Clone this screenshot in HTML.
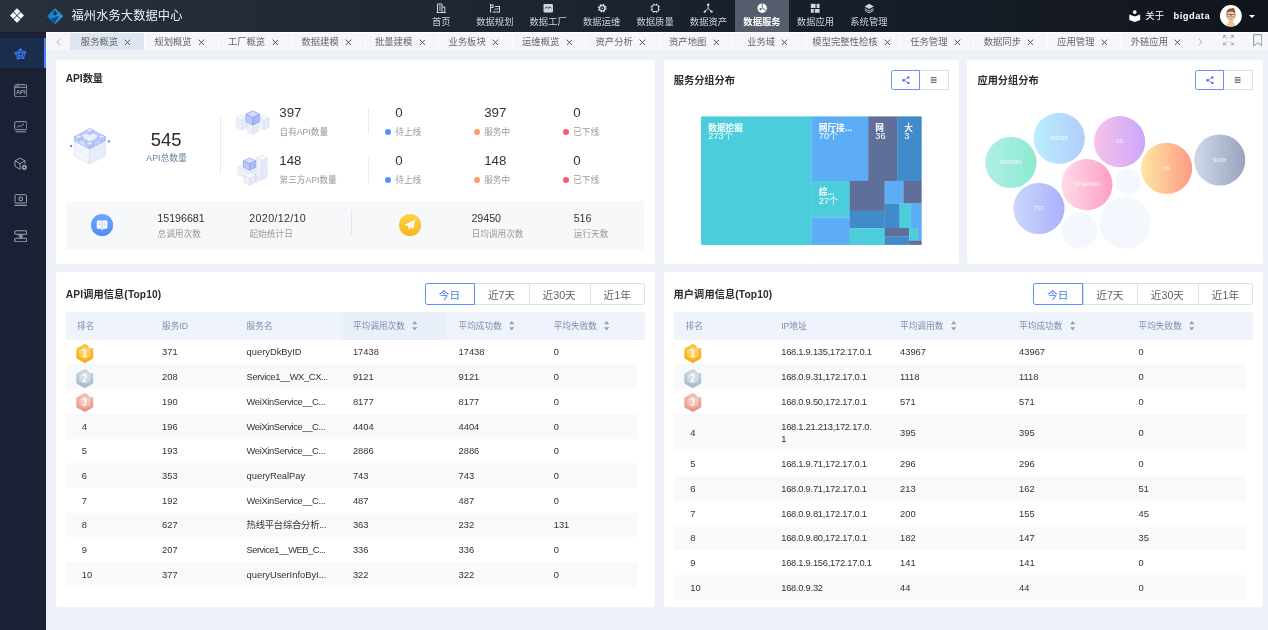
<!DOCTYPE html>
<html lang="zh-CN">
<head>
<meta charset="utf-8">
<title>福州水务大数据中心</title>
<style>
*{box-sizing:border-box;margin:0;padding:0}
html,body{width:1268px;height:630px;overflow:hidden;background:#eef1f8}
body{font-family:"Liberation Sans","Noto Sans CJK SC",sans-serif;color:#333;position:relative;font-size:9.33px;line-height:1}
.abs{position:absolute}
#top{position:absolute;left:0;top:0;width:1268px;height:32px;background:linear-gradient(90deg,#28303d,#10151d)}
#side{position:absolute;left:0;top:32px;width:46px;height:598px;background:#1b2035}
#side .act{position:absolute;left:0;top:6px;width:46px;height:30px;background:#1b2d4d;border-right:2px solid #4a86f7}
#tabs{position:absolute;left:46px;top:32px;width:1222px;height:18.3px;background:#fff}
.t{position:absolute;white-space:nowrap}
.card{position:absolute;background:#fff;border-radius:3px}
#c1:before,#c2:before,#c3:before{content:"";position:absolute;left:0;right:0;top:-.4px;height:4px;background:#fff;border-radius:3px 3px 0 0}
.ttl{position:absolute;font-weight:bold;font-size:10.2px;color:#2b2b2b;white-space:nowrap}
.g{color:#999}
</style>
</head>
<body>
<div id="top">
<svg class="abs" style="left:10.2px;top:8.2px" width="14" height="15" viewBox="0 0 14 15"><g fill="#fff"><path d="M7 .3l3.300 3.300-3.300 3.300-3.300-3.300z"/><path d="M7 8.100l3.300 3.300-3.300 3.300-3.300-3.300z"/><path d="M3.200 4.200l3.300 3.300-3.300 3.300L-.1 7.500z"/><path d="M10.800 4.200l3.300 3.300-3.300 3.300-3.300-3.300z"/></g></svg>
<svg class="abs" style="left:46.9px;top:7.8px" width="16.300" height="16.300" viewBox="0 0 17 17"><defs><linearGradient id="lg1" x1="0" y1="0" x2="1" y2="0"><stop offset="0" stop-color="#0f7fd0"/><stop offset="1" stop-color="#1d9be0"/></linearGradient></defs><path d="M8.500.4l8.100 8.100-8.100 8.100L.4 8.500z" fill="url(#lg1)" stroke="url(#lg1)" stroke-width=".6" stroke-linejoin="round"/><path d="M3.900 11.300c2.900.2 5.200-2.300 7.900-2.900.400 2.400-2 3.700-2.900 5.400-.400.800-.400 1.700-.400 2.700z" fill="#153f68" opacity=".9"/><path d="M8.400 2.500c1.200 1.500 1.900 2.300 1.900 3.200a1.900 1.900 0 0 1-3.800 0c0-.9.700-1.700 1.900-3.200z" fill="#252c3a"/></svg>
<div class="t" style="left:71.5px;top:10.2px;font-size:12.2px;line-height:13px;color:#eef1f6;letter-spacing:.15px">福州水务大数据中心</div>
<svg class="abs" style="left:436.1px;top:3.2px" width="10.4" height="10.4" viewBox="0 0 10.4 10.4"><path d="M1.5 9.5V1h4.5v8.5M6 4h2.8v5.5M0.5 9.5h9.5M2.8 3h2M2.8 5h2M2.8 7h2" fill="none" stroke="#cfd5e0" stroke-width="1"/></svg>
<div class="t" style="left:411.3px;width:60px;text-align:center;top:16.5px;font-size:9.33px;line-height:10px;color:#c9d0dc;font-weight:normal">首页</div>
<svg class="abs" style="left:489.6px;top:3.2px" width="10.4" height="10.4" viewBox="0 0 10.4 10.4"><path d="M0.5 9.5V1M0.5 2h2.5v2.5h-2.5zM2.5 9h7V3.5h-4.5" fill="none" stroke="#cfd5e0" stroke-width="1.1"/><path d="M4.5 7l1.5-1.5 1 1L8.5 5" fill="none" stroke="#cfd5e0" stroke-width=".9"/></svg>
<div class="t" style="left:464.8px;width:60px;text-align:center;top:16.5px;font-size:9.33px;line-height:10px;color:#c9d0dc;font-weight:normal">数据规划</div>
<svg class="abs" style="left:543.0px;top:3.2px" width="10.4" height="10.4" viewBox="0 0 10.4 10.4"><rect x="0.5" y="1" width="9.5" height="8.5" rx="1.2" fill="#cfd5e0"/><path d="M2 5.5l1.6-1.6 1.6 1.6 1.6-1.6 1.6 1.6" fill="none" stroke="#262d3a" stroke-width="1"/></svg>
<div class="t" style="left:518.2px;width:60px;text-align:center;top:16.5px;font-size:9.33px;line-height:10px;color:#c9d0dc;font-weight:normal">数据工厂</div>
<svg class="abs" style="left:596.5px;top:3.2px" width="10.4" height="10.4" viewBox="0 0 10.4 10.4"><circle cx="5.2" cy="5.2" r="3.5" fill="none" stroke="#cfd5e0" stroke-width="1.8" stroke-dasharray="1.5 1.25"/><circle cx="5.2" cy="5.2" r="2.700" fill="none" stroke="#cfd5e0" stroke-width="1.300"/><circle cx="5.2" cy="5.2" r=".7" fill="#cfd5e0"/></svg>
<div class="t" style="left:571.7px;width:60px;text-align:center;top:16.5px;font-size:9.33px;line-height:10px;color:#c9d0dc;font-weight:normal">数据运维</div>
<svg class="abs" style="left:649.9px;top:3.2px" width="10.4" height="10.4" viewBox="0 0 10.4 10.4"><rect x="2" y="2" width="6.5" height="6.5" rx="1.6" fill="none" stroke="#cfd5e0" stroke-width="1.1"/><path d="M3.8 0.5v1.5M6.7 0.5v1.5M3.8 8.5v1.5M6.7 8.5v1.5M0.5 3.8h1.5M0.5 6.7h1.5M8.5 3.8h1.5M8.5 6.7h1.5" stroke="#cfd5e0" stroke-width=".9"/></svg>
<div class="t" style="left:625.1px;width:60px;text-align:center;top:16.5px;font-size:9.33px;line-height:10px;color:#c9d0dc;font-weight:normal">数据质量</div>
<svg class="abs" style="left:703.3px;top:3.2px" width="10.4" height="10.4" viewBox="0 0 10.4 10.4"><path d="M5.2 2.5v3M5.2 5.5L2 8.3M5.2 5.5l3.2 2.8" fill="none" stroke="#cfd5e0" stroke-width="1"/><circle cx="5.2" cy="1.8" r="1.3" fill="#cfd5e0"/><circle cx="1.8" cy="8.6" r="1.2" fill="#cfd5e0"/><circle cx="8.6" cy="8.6" r="1.2" fill="#cfd5e0"/></svg>
<div class="t" style="left:678.5px;width:60px;text-align:center;top:16.5px;font-size:9.33px;line-height:10px;color:#c9d0dc;font-weight:normal">数据资产</div>
<div class="abs" style="left:735.4px;top:0;width:53.4px;height:32px;background:#555c6b"></div>
<svg class="abs" style="left:756.8px;top:3.2px" width="10.4" height="10.4" viewBox="0 0 10.4 10.4"><circle cx="5.2" cy="5.2" r="4.7" fill="#fff"/><path d="M5.2 5.2V0.5M5.2 5.2l4 2.4" stroke="#555c6b" stroke-width=".9" fill="none"/><circle cx="3.6" cy="6.2" r="1.1" fill="#555c6b"/></svg>
<div class="t" style="left:732.0px;width:60px;text-align:center;top:16.5px;font-size:9.33px;line-height:10px;color:#fff;font-weight:bold">数据服务</div>
<svg class="abs" style="left:810.2px;top:3.2px" width="10.4" height="10.4" viewBox="0 0 10.4 10.4"><rect x="0.8" y="0.8" width="4.8" height="4.2" fill="#cfd5e0"/><rect x="6.6" y="0.8" width="3" height="4.2" fill="#cfd5e0"/><rect x="0.8" y="6" width="3" height="3.8" fill="#cfd5e0"/><rect x="4.8" y="6" width="4.8" height="3.8" fill="#cfd5e0"/></svg>
<div class="t" style="left:785.5px;width:60px;text-align:center;top:16.5px;font-size:9.33px;line-height:10px;color:#c9d0dc;font-weight:normal">数据应用</div>
<svg class="abs" style="left:863.7px;top:3.2px" width="10.4" height="10.4" viewBox="0 0 10.4 10.4"><path d="M5.2 0.8l4.6 2.6-4.6 2.6L0.6 3.4z" fill="#cfd5e0"/><path d="M0.8 5.6l4.4 2.5 4.4-2.5M0.8 7.4l4.4 2.5 4.4-2.5" fill="none" stroke="#cfd5e0" stroke-width=".9"/></svg>
<div class="t" style="left:838.9px;width:60px;text-align:center;top:16.5px;font-size:9.33px;line-height:10px;color:#c9d0dc;font-weight:normal">系统管理</div>
<svg class="abs" style="left:1129px;top:10px" width="11.5" height="12" viewBox="0 0 11.5 12"><circle cx="5.75" cy="2.1" r="1.9" fill="#fff"/><path d="M.3 4.600l5.450 2 5.450-2v5.400l-5.450 2-5.450-2z" fill="#fff"/></svg>
<div class="t" style="left:1145.3px;top:11px;font-size:9.33px;line-height:10px;color:#fff">关于</div>
<div class="t" style="left:1173.5px;top:10.8px;font-size:9.33px;line-height:10px;color:#fff;font-weight:bold;letter-spacing:.5px">bigdata</div>
<svg class="abs" style="left:1220.200px;top:5px" width="21.800" height="21.800" viewBox="0 0 43 43"><defs><clipPath id="cpa"><circle cx="21.500" cy="21.500" r="21.500"/></clipPath></defs><circle cx="21.500" cy="21.500" r="21.500" fill="#fff"/><g clip-path="url(#cpa)"><ellipse cx="21.500" cy="38.500" rx="8.500" ry="4" fill="#f0c594"/><rect x="17" y="28" width="9" height="8" fill="#eebd8a"/><ellipse cx="21.500" cy="21.800" rx="8.800" ry="10" fill="#f2c792"/><path d="M12.800 19c-.8-7 2.500-12 8.700-12 2.500 0 3.500-1.500 6.500-1-0.500 1.500 0 2.500 1 4 1.500 2.500 1.500 5.500 1 9-1.500-4-3-6-8.500-6s-7.200 2-8.700 6z" fill="#a04d2e"/><rect x="12.600" y="18.300" width="17.800" height="1.600" fill="#4a4f52"/><rect x="13.400" y="18.600" width="7" height="4.800" rx="1" fill="#eadbc6" stroke="#5f6466" stroke-width="1.100"/><rect x="22.600" y="18.600" width="7" height="4.800" rx="1" fill="#eadbc6" stroke="#5f6466" stroke-width="1.100"/><ellipse cx="21.500" cy="27.700" rx="2" ry=".9" fill="#b8475a"/></g></svg>
<div class="abs" style="left:1248.6px;top:14.6px;width:0;height:0;border-left:3px solid transparent;border-right:3px solid transparent;border-top:3.2px solid #fff"></div>
</div>
<div id="side"><div class="act"></div>
<svg class="abs" style="left:13.8px;top:15.700px" width="13" height="13" viewBox="0 0 13 13"><g fill="none" stroke="#3f78f5" stroke-width="1"><path d="M6.300 1.200l5 3.200-1.800 5.600-5.800.600L1.300 5z"/><path d="M6.300 1.200l-2.600 9.400M6.300 1.200l3.200 8.800M1.300 5l10-.6M1.300 5l8.200 5M11.300 4.400l-7.600 6.200"/></g><g fill="#3f78f5"><circle cx="6.300" cy="1.300" r="1.100"/><circle cx="11.300" cy="4.400" r="1.100"/><circle cx="9.500" cy="10" r="1.100"/><circle cx="3.700" cy="10.600" r="1.100"/><circle cx="1.400" cy="5" r="1.100"/></g></svg>
<svg class="abs" style="left:13.700px;top:51.800px" width="13.500" height="13.500" viewBox="0 0 13.500 13.500"><rect x=".7" y=".7" width="12.100" height="12.100" rx="1.500" fill="none" stroke="#9aa0ad" stroke-width="1"/><path d="M.7 3.300h12.100M2.200 2h3" stroke="#9aa0ad" stroke-width=".9"/><text x="6.750" y="10.300" font-size="5.800" font-weight="bold" fill="#9aa0ad" text-anchor="middle" font-family="Liberation Sans,sans-serif">API</text></svg>
<svg class="abs" style="left:13.700px;top:88.800px" width="13.500" height="12" viewBox="0 0 13.500 12"><rect x=".7" y=".7" width="12.100" height="8" rx="1" fill="none" stroke="#9aa0ad" stroke-width="1"/><path d="M3 6.500l2.200-2.200 1.600 1.300 3.200-2.800" fill="none" stroke="#9aa0ad" stroke-width="1"/><path d="M1.500 10.800h10.500" stroke="#9aa0ad" stroke-width="1"/></svg>
<svg class="abs" style="left:13.700px;top:124.500px" width="13.500" height="13.500" viewBox="0 0 13.500 13.500"><path d="M6 1l5 2.800v3M6 12.200L1 9.400V3.800L6 1M1 3.800l5 2.800 5-2.800M6 6.600v5.600" fill="none" stroke="#9aa0ad" stroke-width="1" stroke-linejoin="round"/><circle cx="10.300" cy="10.300" r="2.600" fill="#9aa0ad"/><circle cx="10.300" cy="10.300" r=".9" fill="#1b2035"/></svg>
<svg class="abs" style="left:13.700px;top:161.500px" width="13.500" height="12.500" viewBox="0 0 13.500 12.500"><rect x="1" y=".7" width="11.500" height="8.300" rx=".8" fill="none" stroke="#9aa0ad" stroke-width="1"/><circle cx="6.750" cy="4.850" r="1.800" fill="none" stroke="#9aa0ad" stroke-width="1.100"/><path d="M.5 11.300h12.500" stroke="#9aa0ad" stroke-width="1.200"/></svg>
<svg class="abs" style="left:13.700px;top:197.800px" width="13.500" height="12.500" viewBox="0 0 13.500 12.500"><rect x=".7" y=".7" width="12.100" height="3.600" rx="1.600" fill="none" stroke="#9aa0ad" stroke-width="1.100"/><rect x=".7" y="8.200" width="12.100" height="3.600" rx="1.600" fill="none" stroke="#9aa0ad" stroke-width="1.100"/><path d="M4.500 5.600h4.500M4.500 6.900h4.500" stroke="#9aa0ad" stroke-width=".8"/><path d="M6.750 4.300v3.900" stroke="#9aa0ad" stroke-width="1.600"/></svg>
</div>
<div id="tabs">
<div class="abs" style="left:0.6px;top:.7px;width:1222.10px;height:17.6px;background:#f5f6fa"></div>
<svg class="abs" style="left:10.2px;top:5.8px" width="5" height="8" viewBox="0 0 5 8"><path d="M4.300.600L1 4l3.300 3.400" fill="none" stroke="#a9adb5" stroke-width=".9"/></svg>
<div class="abs" style="left:24.20px;top:.7px;width:73.52px;height:17.6px;background:#dfe6f3"></div>
<div class="t" style="left:34.85px;top:5px;font-size:9.33px;line-height:10px;color:#666">服务概览</div>
<svg class="abs" style="left:78.47px;top:6.6px" width="6.800" height="6.800" viewBox="0 0 6.800 6.800"><path d="M.6.6l5.600 5.600M6.200.6L.6 6.200" fill="none" stroke="#555" stroke-width="1"/></svg>
<div class="abs" style="left:97.72px;top:.7px;width:73.52px;height:17.6px;background:#f5f6fa"></div>
<div class="abs" style="left:98.02px;top:.7px;width:.8px;height:17.6px;background:#fcfdff"></div>
<div class="t" style="left:108.37px;top:5px;font-size:9.33px;line-height:10px;color:#666">规划概览</div>
<svg class="abs" style="left:151.99px;top:6.6px" width="6.800" height="6.800" viewBox="0 0 6.800 6.800"><path d="M.6.6l5.600 5.600M6.200.6L.6 6.200" fill="none" stroke="#555" stroke-width="1"/></svg>
<div class="abs" style="left:171.24px;top:.7px;width:73.52px;height:17.6px;background:#f5f6fa"></div>
<div class="abs" style="left:171.54px;top:.7px;width:.8px;height:17.6px;background:#fcfdff"></div>
<div class="t" style="left:181.89px;top:5px;font-size:9.33px;line-height:10px;color:#666">工厂概览</div>
<svg class="abs" style="left:225.51px;top:6.6px" width="6.800" height="6.800" viewBox="0 0 6.800 6.800"><path d="M.6.6l5.600 5.600M6.200.6L.6 6.200" fill="none" stroke="#555" stroke-width="1"/></svg>
<div class="abs" style="left:244.76px;top:.7px;width:73.52px;height:17.6px;background:#f5f6fa"></div>
<div class="abs" style="left:245.06px;top:.7px;width:.8px;height:17.6px;background:#fcfdff"></div>
<div class="t" style="left:255.41px;top:5px;font-size:9.33px;line-height:10px;color:#666">数据建模</div>
<svg class="abs" style="left:299.03px;top:6.6px" width="6.800" height="6.800" viewBox="0 0 6.800 6.800"><path d="M.6.6l5.600 5.600M6.200.6L.6 6.200" fill="none" stroke="#555" stroke-width="1"/></svg>
<div class="abs" style="left:318.28px;top:.7px;width:73.52px;height:17.6px;background:#f5f6fa"></div>
<div class="abs" style="left:318.58px;top:.7px;width:.8px;height:17.6px;background:#fcfdff"></div>
<div class="t" style="left:328.93px;top:5px;font-size:9.33px;line-height:10px;color:#666">批量建模</div>
<svg class="abs" style="left:372.55px;top:6.6px" width="6.800" height="6.800" viewBox="0 0 6.800 6.800"><path d="M.6.6l5.600 5.600M6.200.6L.6 6.200" fill="none" stroke="#555" stroke-width="1"/></svg>
<div class="abs" style="left:391.80px;top:.7px;width:73.52px;height:17.6px;background:#f5f6fa"></div>
<div class="abs" style="left:392.10px;top:.7px;width:.8px;height:17.6px;background:#fcfdff"></div>
<div class="t" style="left:402.45px;top:5px;font-size:9.33px;line-height:10px;color:#666">业务板块</div>
<svg class="abs" style="left:446.07px;top:6.6px" width="6.800" height="6.800" viewBox="0 0 6.800 6.800"><path d="M.6.6l5.600 5.600M6.200.6L.6 6.200" fill="none" stroke="#555" stroke-width="1"/></svg>
<div class="abs" style="left:465.32px;top:.7px;width:73.52px;height:17.6px;background:#f5f6fa"></div>
<div class="abs" style="left:465.62px;top:.7px;width:.8px;height:17.6px;background:#fcfdff"></div>
<div class="t" style="left:475.97px;top:5px;font-size:9.33px;line-height:10px;color:#666">运维概览</div>
<svg class="abs" style="left:519.59px;top:6.6px" width="6.800" height="6.800" viewBox="0 0 6.800 6.800"><path d="M.6.6l5.600 5.600M6.200.6L.6 6.200" fill="none" stroke="#555" stroke-width="1"/></svg>
<div class="abs" style="left:538.84px;top:.7px;width:73.52px;height:17.6px;background:#f5f6fa"></div>
<div class="abs" style="left:539.14px;top:.7px;width:.8px;height:17.6px;background:#fcfdff"></div>
<div class="t" style="left:549.49px;top:5px;font-size:9.33px;line-height:10px;color:#666">资产分析</div>
<svg class="abs" style="left:593.11px;top:6.6px" width="6.800" height="6.800" viewBox="0 0 6.800 6.800"><path d="M.6.6l5.600 5.600M6.200.6L.6 6.200" fill="none" stroke="#555" stroke-width="1"/></svg>
<div class="abs" style="left:612.36px;top:.7px;width:73.52px;height:17.6px;background:#f5f6fa"></div>
<div class="abs" style="left:612.66px;top:.7px;width:.8px;height:17.6px;background:#fcfdff"></div>
<div class="t" style="left:623.01px;top:5px;font-size:9.33px;line-height:10px;color:#666">资产地图</div>
<svg class="abs" style="left:666.63px;top:6.6px" width="6.800" height="6.800" viewBox="0 0 6.800 6.800"><path d="M.6.6l5.600 5.600M6.200.6L.6 6.200" fill="none" stroke="#555" stroke-width="1"/></svg>
<div class="abs" style="left:685.88px;top:.7px;width:73.52px;height:17.6px;background:#f5f6fa"></div>
<div class="abs" style="left:686.18px;top:.7px;width:.8px;height:17.6px;background:#fcfdff"></div>
<div class="t" style="left:701.19px;top:5px;font-size:9.33px;line-height:10px;color:#666">业务域</div>
<svg class="abs" style="left:735.48px;top:6.6px" width="6.800" height="6.800" viewBox="0 0 6.800 6.800"><path d="M.6.6l5.600 5.600M6.200.6L.6 6.200" fill="none" stroke="#555" stroke-width="1"/></svg>
<div class="abs" style="left:759.40px;top:.7px;width:94.10px;height:17.6px;background:#f5f6fa"></div>
<div class="abs" style="left:759.70px;top:.7px;width:.8px;height:17.6px;background:#fcfdff"></div>
<div class="t" style="left:766.34px;top:5px;font-size:9.33px;line-height:10px;color:#666">模型完整性检核</div>
<svg class="abs" style="left:837.95px;top:6.6px" width="6.800" height="6.800" viewBox="0 0 6.800 6.800"><path d="M.6.6l5.600 5.600M6.200.6L.6 6.200" fill="none" stroke="#555" stroke-width="1"/></svg>
<div class="abs" style="left:853.50px;top:.7px;width:73.52px;height:17.6px;background:#f5f6fa"></div>
<div class="abs" style="left:853.80px;top:.7px;width:.8px;height:17.6px;background:#fcfdff"></div>
<div class="t" style="left:864.15px;top:5px;font-size:9.33px;line-height:10px;color:#666">任务管理</div>
<svg class="abs" style="left:907.77px;top:6.6px" width="6.800" height="6.800" viewBox="0 0 6.800 6.800"><path d="M.6.6l5.600 5.600M6.200.6L.6 6.200" fill="none" stroke="#555" stroke-width="1"/></svg>
<div class="abs" style="left:927.02px;top:.7px;width:73.52px;height:17.6px;background:#f5f6fa"></div>
<div class="abs" style="left:927.32px;top:.7px;width:.8px;height:17.6px;background:#fcfdff"></div>
<div class="t" style="left:937.67px;top:5px;font-size:9.33px;line-height:10px;color:#666">数据同步</div>
<svg class="abs" style="left:981.29px;top:6.6px" width="6.800" height="6.800" viewBox="0 0 6.800 6.800"><path d="M.6.6l5.600 5.600M6.200.6L.6 6.200" fill="none" stroke="#555" stroke-width="1"/></svg>
<div class="abs" style="left:1000.54px;top:.7px;width:73.52px;height:17.6px;background:#f5f6fa"></div>
<div class="abs" style="left:1000.84px;top:.7px;width:.8px;height:17.6px;background:#fcfdff"></div>
<div class="t" style="left:1011.19px;top:5px;font-size:9.33px;line-height:10px;color:#666">应用管理</div>
<svg class="abs" style="left:1054.81px;top:6.6px" width="6.800" height="6.800" viewBox="0 0 6.800 6.800"><path d="M.6.6l5.600 5.600M6.200.6L.6 6.200" fill="none" stroke="#555" stroke-width="1"/></svg>
<div class="abs" style="left:1074.06px;top:.7px;width:73.52px;height:17.6px;background:#f5f6fa"></div>
<div class="abs" style="left:1074.36px;top:.7px;width:.8px;height:17.6px;background:#fcfdff"></div>
<div class="t" style="left:1084.71px;top:5px;font-size:9.33px;line-height:10px;color:#666">外链应用</div>
<svg class="abs" style="left:1128.33px;top:6.6px" width="6.800" height="6.800" viewBox="0 0 6.800 6.800"><path d="M.6.6l5.600 5.600M6.200.6L.6 6.200" fill="none" stroke="#555" stroke-width="1"/></svg>
<svg class="abs" style="left:1151.600px;top:5.600px" width="5" height="8" viewBox="0 0 5 8"><path d="M.7.600L4 4 .7 7.400" fill="none" stroke="#a6a9b0" stroke-width=".9"/></svg>
<svg class="abs" style="left:1176.700px;top:3.400px" width="11" height="10.300" viewBox="0 0 12 11.500"><path d="M.6 3.300V.6h2.700M8.700.6h2.700v2.700M11.400 8.200v2.700H8.700M3.300 10.900H.6V8.200M.9.900l3 3M11.100.900l-3 3M11.100 10.600l-3-3M.9 10.600l3-3" fill="none" stroke="#8a8f99" stroke-width=".85"/></svg>
<svg class="abs" style="left:1206.800px;top:1.900px" width="9.500" height="13" viewBox="0 0 9.500 13"><path d="M.7.700h8.100v11.300L4.750 8.800.7 12z" fill="none" stroke="#8a8f99" stroke-width="1"/></svg>
</div>

<div class="card" id="c1" style="left:56px;top:60px;width:599px;height:203.600px">
<div class="ttl" style="left:9.7px;top:13.9px">API数量</div>
<svg class="abs" style="left:10px;top:62px" width="48" height="46" viewBox="0 0 48 46"><ellipse cx="23.799999999999997" cy="21.5" rx="19" ry="6.5" fill="none" stroke="#e9edf7" stroke-width=".6"/><path d="M24.30 8.20L39.50 16.20L23.50 24.50L8.30 16.50z" fill="#f6f8fe" stroke="#d4daec" stroke-width="0.6" stroke-linejoin="round"/><path d="M8.30 16.50L23.50 24.50L23.50 42.00L8.30 34.00z" fill="#f3f5fc" stroke="#d4daec" stroke-width="0.6" stroke-linejoin="round"/><path d="M23.50 24.50L39.50 16.20L39.50 33.70L23.50 42.00z" fill="#e9edfa" stroke="#d4daec" stroke-width="0.6" stroke-linejoin="round"/><path d="M8.5 26L23.5 34" stroke="#dfe4f1" stroke-width=".5" fill="none"/><path d="M24.10 6.80L38.90 14.40L23.50 22.20L8.70 14.60z" fill="#cbd7fc" stroke="#8aa2f6" stroke-width="0.6" stroke-linejoin="round"/><path d="M8.70 14.60L23.50 22.20L23.50 26.80L8.70 19.20z" fill="#d6e0fd" stroke="#8aa2f6" stroke-width="0.6" stroke-linejoin="round"/><path d="M23.50 22.20L38.90 14.40L38.90 19.00L23.50 26.80z" fill="#c2cffb" stroke="#8aa2f6" stroke-width="0.6" stroke-linejoin="round"/><path d="M23.5 8.900000000000006L34.5 14.400000000000006L23.799999999999997 19.900000000000006L13 14.400000000000006z" fill="#e9eefc" stroke="#8aa2f6" stroke-width=".5"/><path d="M23.80 6.40L27.80 8.50L23.80 10.60L19.80 8.50z" fill="#e3eafe" stroke="#8aa2f6" stroke-width="0.5" stroke-linejoin="round"/><path d="M19.80 8.50L23.80 10.60L23.80 12.80L19.80 10.70z" fill="#d3defd" stroke="#8aa2f6" stroke-width="0.5" stroke-linejoin="round"/><path d="M23.80 10.60L27.80 8.50L27.80 10.70L23.80 12.80z" fill="#c3d0fb" stroke="#8aa2f6" stroke-width="0.5" stroke-linejoin="round"/><path d="M12.60 12.70L16.60 14.80L12.60 16.90L8.60 14.80z" fill="#e3eafe" stroke="#8aa2f6" stroke-width="0.5" stroke-linejoin="round"/><path d="M8.60 14.80L12.60 16.90L12.60 19.10L8.60 17.00z" fill="#d3defd" stroke="#8aa2f6" stroke-width="0.5" stroke-linejoin="round"/><path d="M12.60 16.90L16.60 14.80L16.60 17.00L12.60 19.10z" fill="#c3d0fb" stroke="#8aa2f6" stroke-width="0.5" stroke-linejoin="round"/><path d="M35.40 12.70L39.40 14.80L35.40 16.90L31.40 14.80z" fill="#e3eafe" stroke="#8aa2f6" stroke-width="0.5" stroke-linejoin="round"/><path d="M31.40 14.80L35.40 16.90L35.40 19.10L31.40 17.00z" fill="#d3defd" stroke="#8aa2f6" stroke-width="0.5" stroke-linejoin="round"/><path d="M35.40 16.90L39.40 14.80L39.40 17.00L35.40 19.10z" fill="#c3d0fb" stroke="#8aa2f6" stroke-width="0.5" stroke-linejoin="round"/><path d="M23.60 19.40L27.60 21.50L23.60 23.60L19.60 21.50z" fill="#e3eafe" stroke="#8aa2f6" stroke-width="0.5" stroke-linejoin="round"/><path d="M19.60 21.50L23.60 23.60L23.60 25.80L19.60 23.70z" fill="#d3defd" stroke="#8aa2f6" stroke-width="0.5" stroke-linejoin="round"/><path d="M23.60 23.60L27.60 21.50L27.60 23.70L23.60 25.80z" fill="#c3d0fb" stroke="#8aa2f6" stroke-width="0.5" stroke-linejoin="round"/><circle cx="5.099999999999994" cy="24.099999999999994" r="1.1" fill="#4e6ef2"/><circle cx="42.900000000000006" cy="19.30000000000001" r="1.1" fill="#4e6ef2"/></svg>
<div class="t" style="left:94.8px;top:71.2px;font-size:18.4px;line-height:18.4px;color:#2b2b2b;">545</div>
<div class="t" style="left:90.3px;top:94.2px;font-size:8.8px;line-height:8.8px;color:#6a7ea3;">API总数量</div>
<div class="abs" style="left:164.4px;top:55px;width:.7px;height:59px;background:#e8ebf0"></div>
<svg class="abs" style="left:178px;top:46px" width="38" height="32" viewBox="0 0 38 32"><path d="M18.80 4.30L24.10 7.10L18.80 9.90L13.50 7.10z" fill="#f6f8fe" stroke="#d4daec" stroke-width="0.5" stroke-linejoin="round"/><path d="M13.50 7.10L18.80 9.90L18.80 18.70L13.50 15.90z" fill="#eef1fb" stroke="#d4daec" stroke-width="0.5" stroke-linejoin="round"/><path d="M18.80 9.90L24.10 7.10L24.10 15.90L18.80 18.70z" fill="#e6eaf8" stroke="#d4daec" stroke-width="0.5" stroke-linejoin="round"/><path d="M7.90 8.90L13.20 11.70L7.90 14.50L2.60 11.70z" fill="#f6f8fe" stroke="#d4daec" stroke-width="0.5" stroke-linejoin="round"/><path d="M2.60 11.70L7.90 14.50L7.90 24.10L2.60 21.30z" fill="#eef1fb" stroke="#d4daec" stroke-width="0.5" stroke-linejoin="round"/><path d="M7.90 14.50L13.20 11.70L13.20 21.30L7.90 24.10z" fill="#e6eaf8" stroke="#d4daec" stroke-width="0.5" stroke-linejoin="round"/><path d="M29.80 8.90L35.10 11.70L29.80 14.50L24.50 11.70z" fill="#f6f8fe" stroke="#d4daec" stroke-width="0.5" stroke-linejoin="round"/><path d="M24.50 11.70L29.80 14.50L29.80 24.10L24.50 21.30z" fill="#eef1fb" stroke="#d4daec" stroke-width="0.5" stroke-linejoin="round"/><path d="M29.80 14.50L35.10 11.70L35.10 21.30L29.80 24.10z" fill="#e6eaf8" stroke="#d4daec" stroke-width="0.5" stroke-linejoin="round"/><path d="M18.80 13.10L24.40 16.00L18.80 18.90L13.20 16.00z" fill="#f6f8fe" stroke="#d4daec" stroke-width="0.5" stroke-linejoin="round"/><path d="M13.20 16.00L18.80 18.90L18.80 28.30L13.20 25.40z" fill="#eef1fb" stroke="#d4daec" stroke-width="0.5" stroke-linejoin="round"/><path d="M18.80 18.90L24.40 16.00L24.40 25.40L18.80 28.30z" fill="#e6eaf8" stroke="#d4daec" stroke-width="0.5" stroke-linejoin="round"/><path d="M18.80 5.00L25.70 8.30L18.80 11.60L11.90 8.30z" fill="#d3ddfd" stroke="#7d97f4" stroke-width="0.6" stroke-linejoin="round"/><path d="M11.90 8.30L18.80 11.60L18.80 19.00L11.90 15.70z" fill="#bccafb" stroke="#7d97f4" stroke-width="0.6" stroke-linejoin="round"/><path d="M18.80 11.60L25.70 8.30L25.70 15.70L18.80 19.00z" fill="#a9baf9" stroke="#7d97f4" stroke-width="0.6" stroke-linejoin="round"/></svg>
<svg class="abs" style="left:178px;top:92px" width="38" height="36" viewBox="0 0 38 36"><path d="M10.50 11.40L22.00 17.20L15.50 20.50L4.00 14.70z" fill="#f6f8fe" stroke="#d4daec" stroke-width="0.5" stroke-linejoin="round"/><path d="M4.00 14.70L15.50 20.50L15.50 28.00L4.00 22.20z" fill="#eef1fb" stroke="#d4daec" stroke-width="0.5" stroke-linejoin="round"/><path d="M15.50 20.50L22.00 17.20L22.00 24.70L15.50 28.00z" fill="#e6eaf8" stroke="#d4daec" stroke-width="0.5" stroke-linejoin="round"/><path d="M16.50 20.40L22.00 23.20L15.50 26.50L10.00 23.70z" fill="#f6f8fe" stroke="#d4daec" stroke-width="0.5" stroke-linejoin="round"/><path d="M10.00 23.70L15.50 26.50L15.50 33.50L10.00 30.70z" fill="#eef1fb" stroke="#d4daec" stroke-width="0.5" stroke-linejoin="round"/><path d="M15.50 26.50L22.00 23.20L22.00 30.20L15.50 33.50z" fill="#e6eaf8" stroke="#d4daec" stroke-width="0.5" stroke-linejoin="round"/><path d="M32.90 18.40L33.00 18.40L22.00 24.00L21.90 24.00z" fill="#f6f8fe" stroke="#d4daec" stroke-width="0.5" stroke-linejoin="round"/><path d="M21.90 24.00L22.00 24.00L22.00 30.50L21.90 30.50z" fill="#eef1fb" stroke="#d4daec" stroke-width="0.5" stroke-linejoin="round"/><path d="M22.00 24.00L33.00 18.40L33.00 24.90L22.00 30.50z" fill="#e6eaf8" stroke="#d4daec" stroke-width="0.5" stroke-linejoin="round"/><path d="M27.60 3.00L33.20 5.80L27.60 8.60L22.00 5.80z" fill="#f6f8fe" stroke="#d4daec" stroke-width="0.5" stroke-linejoin="round"/><path d="M22.00 5.80L27.60 8.60L27.60 27.20L22.00 24.40z" fill="#eef1fb" stroke="#d4daec" stroke-width="0.5" stroke-linejoin="round"/><path d="M27.60 8.60L33.20 5.80L33.20 24.40L27.60 27.20z" fill="#e6eaf8" stroke="#d4daec" stroke-width="0.5" stroke-linejoin="round"/><path d="M15.60 5.90L21.80 8.90L15.60 11.90L9.40 8.90z" fill="#d3ddfd" stroke="#7d97f4" stroke-width="0.6" stroke-linejoin="round"/><path d="M9.40 8.90L15.60 11.90L15.60 18.30L9.40 15.30z" fill="#bccafb" stroke="#7d97f4" stroke-width="0.6" stroke-linejoin="round"/><path d="M15.60 11.90L21.80 8.90L21.80 15.30L15.60 18.30z" fill="#a9baf9" stroke="#7d97f4" stroke-width="0.6" stroke-linejoin="round"/></svg>
<div class="t" style="left:223.3px;top:45.9px;font-size:13.33px;line-height:13.33px;color:#333;">397</div>
<div class="t" style="left:223.5px;top:67.9px;font-size:8.67px;line-height:8.67px;color:#999;">自有API数量</div>
<div class="abs" style="left:312px;top:48.0px;width:.7px;height:26.3px;background:#e8ebf0"></div>
<div class="t" style="left:339.3px;top:45.9px;font-size:13.33px;line-height:13.33px;color:#333;">0</div>
<div class="abs" style="left:328.8px;top:68.7px;width:6px;height:6px;border-radius:50%;background:#5b8ff9"></div>
<div class="t" style="left:339.3px;top:67.9px;font-size:8.67px;line-height:8.67px;color:#999;">待上线</div>
<div class="t" style="left:428.2px;top:45.9px;font-size:13.33px;line-height:13.33px;color:#333;">397</div>
<div class="abs" style="left:418.1px;top:68.7px;width:6px;height:6px;border-radius:50%;background:#ff9d66"></div>
<div class="t" style="left:428.2px;top:67.9px;font-size:8.67px;line-height:8.67px;color:#999;">服务中</div>
<div class="t" style="left:517.2px;top:45.9px;font-size:13.33px;line-height:13.33px;color:#333;">0</div>
<div class="abs" style="left:507.0px;top:68.7px;width:6px;height:6px;border-radius:50%;background:#f5586f"></div>
<div class="t" style="left:517.2px;top:67.9px;font-size:8.67px;line-height:8.67px;color:#999;">已下线</div>
<div class="t" style="left:223.3px;top:94.4px;font-size:13.33px;line-height:13.33px;color:#333;">148</div>
<div class="t" style="left:223.5px;top:115.8px;font-size:8.67px;line-height:8.67px;color:#999;">第三方API数量</div>
<div class="abs" style="left:312px;top:96.5px;width:.7px;height:26.3px;background:#e8ebf0"></div>
<div class="t" style="left:339.3px;top:94.4px;font-size:13.33px;line-height:13.33px;color:#333;">0</div>
<div class="abs" style="left:328.8px;top:116.6px;width:6px;height:6px;border-radius:50%;background:#5b8ff9"></div>
<div class="t" style="left:339.3px;top:115.8px;font-size:8.67px;line-height:8.67px;color:#999;">待上线</div>
<div class="t" style="left:428.2px;top:94.4px;font-size:13.33px;line-height:13.33px;color:#333;">148</div>
<div class="abs" style="left:418.1px;top:116.6px;width:6px;height:6px;border-radius:50%;background:#ff9d66"></div>
<div class="t" style="left:428.2px;top:115.8px;font-size:8.67px;line-height:8.67px;color:#999;">服务中</div>
<div class="t" style="left:517.2px;top:94.4px;font-size:13.33px;line-height:13.33px;color:#333;">0</div>
<div class="abs" style="left:507.0px;top:116.6px;width:6px;height:6px;border-radius:50%;background:#f5586f"></div>
<div class="t" style="left:517.2px;top:115.8px;font-size:8.67px;line-height:8.67px;color:#999;">已下线</div>
<div class="abs" style="left:9.8px;top:141px;width:578.6px;height:48.8px;background:#f7f8fa;border-radius:3px"></div>
<svg class="abs" style="left:35.2px;top:154.3px" width="22.2" height="22.2" viewBox="0 0 22.2 22.2"><defs><linearGradient id="gb1" x1="0" y1="0" x2="0" y2="1"><stop offset="0" stop-color="#6fa6fb"/><stop offset="1" stop-color="#4f8df7"/></linearGradient></defs><circle cx="11.1" cy="11.1" r="11.1" fill="url(#gb1)"/><rect x="5.8" y="6.6" width="10.6" height="8.2" rx="1" fill="#fff"/><path d="M11.1 7.200v7M7.400 9h2.400M7.400 10.800h2.400M12.400 9h2.400M12.400 10.800h2.400" stroke="#8db6fb" stroke-width=".7"/><path d="M9.600 14.800h3l-1.500 1.500z" fill="#fff"/></svg>
<div class="t" style="left:101.3px;top:153.0px;font-size:10.67px;line-height:10.67px;color:#333;">15196681</div>
<div class="t" style="left:101.5px;top:170.4px;font-size:8.67px;line-height:8.67px;color:#999;">总调用次数</div>
<div class="t" style="left:193.3px;top:153.0px;font-size:10.67px;line-height:10.67px;color:#333;letter-spacing:.35px">2020/12/10</div>
<div class="t" style="left:193.5px;top:170.4px;font-size:8.67px;line-height:8.67px;color:#999;">起始统计日</div>
<div class="abs" style="left:295px;top:149.500px;width:.7px;height:25px;background:#e4e7ed"></div>
<svg class="abs" style="left:343.3px;top:154.3px" width="22.2" height="22.2" viewBox="0 0 22.2 22.2"><defs><linearGradient id="gy1" x1="0" y1="0" x2="0" y2="1"><stop offset="0" stop-color="#ffd04a"/><stop offset="1" stop-color="#fbb71c"/></linearGradient></defs><circle cx="11.1" cy="11.1" r="11.1" fill="url(#gy1)"/><path d="M16.200 5.800L5.400 10.700l3.600 1.400.700 3.700 1.900-2.500 2.700 1.500z" fill="#fff"/><path d="M16.200 5.800L9 12.100l.700 3.700.600-3.100z" fill="#fde9b0"/></svg>
<div class="t" style="left:415.4px;top:153.0px;font-size:10.67px;line-height:10.67px;color:#333;">29450</div>
<div class="t" style="left:415.5px;top:170.4px;font-size:8.67px;line-height:8.67px;color:#999;">日均调用次数</div>
<div class="t" style="left:517.7px;top:153.0px;font-size:10.67px;line-height:10.67px;color:#333;">516</div>
<div class="t" style="left:517.8px;top:170.4px;font-size:8.67px;line-height:8.67px;color:#999;">运行天数</div>
</div>
<div class="card" id="c2" style="left:664px;top:60px;width:295px;height:203.600px">
<div class="ttl" style="left:9.8px;top:16.1px">服务分组分布</div>
<div class="abs" style="left:255.4px;top:10.2px;width:29.2px;height:19.6px;border:.8px solid #dcdfe6;border-left:none;border-radius:0 2.5px 2.5px 0"></div><div class="abs" style="left:227.2px;top:10.2px;width:29px;height:19.6px;border:.8px solid #6496f9;border-radius:2.5px 0 0 2.5px"></div><svg class="abs" style="left:237.8px;top:15.8px" width="8" height="8.400" viewBox="0 0 8 8.400"><path d="M6.300 1.400L1.500 4.200l4.800 2.800" fill="none" stroke="#4a7cf5" stroke-width=".7"/><circle cx="6.400" cy="1.400" r="1.200" fill="#3f73f3"/><circle cx="1.500" cy="4.200" r="1.300" fill="#3f73f3"/><circle cx="6.400" cy="7" r="1.200" fill="#3f73f3"/></svg><svg class="abs" style="left:266.2px;top:17px" width="7.200" height="6" viewBox="0 0 7.200 6"><path d="M.6 .7h6M.6 3h6M.6 5.300h6" stroke="#777" stroke-width="1.300"/></svg>
<svg class="abs" style="left:37px;top:56px" width="221" height="130" viewBox="701 116 221 130" shape-rendering="geometricPrecision"><rect x="701.1" y="116.5" width="110.7" height="128.4" fill="#4bcddc" stroke="#4bcddc" stroke-width=".15"/><rect x="811.8" y="116.5" width="56.4" height="64.5" fill="#5cadf5" stroke="#5cadf5" stroke-width=".15"/><rect x="868.2" y="116.5" width="29.0" height="64.5" fill="#5e6f99" stroke="#5e6f99" stroke-width=".15"/><rect x="897.2" y="116.5" width="24.4" height="64.5" fill="#428bca" stroke="#428bca" stroke-width=".15"/><rect x="811.8" y="181.0" width="38.1" height="36.6" fill="#4bcddc" stroke="#4bcddc" stroke-width=".15"/><rect x="811.8" y="217.6" width="38.1" height="27.3" fill="#5cadf5" stroke="#5cadf5" stroke-width=".15"/><rect x="849.9" y="181.0" width="34.9" height="29.9" fill="#5e6f99" stroke="#5e6f99" stroke-width=".15"/><rect x="849.9" y="210.9" width="34.9" height="17.5" fill="#428bca" stroke="#428bca" stroke-width=".15"/><rect x="849.9" y="228.4" width="34.9" height="16.5" fill="#4bcddc" stroke="#4bcddc" stroke-width=".15"/><rect x="884.8" y="181.0" width="18.7" height="22.6" fill="#5cadf5" stroke="#5cadf5" stroke-width=".15"/><rect x="903.5" y="181.0" width="18.1" height="22.6" fill="#5e6f99" stroke="#5e6f99" stroke-width=".15"/><rect x="884.8" y="203.6" width="14.9" height="24.4" fill="#428bca" stroke="#428bca" stroke-width=".15"/><rect x="899.7" y="203.6" width="11.1" height="24.4" fill="#4bcddc" stroke="#4bcddc" stroke-width=".15"/><rect x="910.8" y="203.6" width="10.8" height="24.4" fill="#5cadf5" stroke="#5cadf5" stroke-width=".15"/><rect x="884.8" y="228.0" width="24.4" height="8.3" fill="#5e6f99" stroke="#5e6f99" stroke-width=".15"/><rect x="884.8" y="236.3" width="24.4" height="8.6" fill="#428bca" stroke="#428bca" stroke-width=".15"/><rect x="909.2" y="228.0" width="8.5" height="12.7" fill="#4bcddc" stroke="#4bcddc" stroke-width=".15"/><rect x="917.7" y="228.0" width="3.9" height="12.7" fill="#5cadf5" stroke="#5cadf5" stroke-width=".15"/><rect x="909.2" y="240.7" width="12.4" height="4.2" fill="#5e6f99" stroke="#5e6f99" stroke-width=".15"/></svg>
<div class="t" style="left:44.3px;top:63.7px;font-size:8.67px;line-height:8.800px;color:#fff"><b>数据挖掘</b><br><span style="font-size:9.200px">273个</span></div>
<div class="t" style="left:154.8px;top:63.7px;font-size:8.67px;line-height:8.800px;color:#fff"><b>网厅接...</b><br><span style="font-size:9.200px">70个</span></div>
<div class="t" style="left:211.3px;top:63.7px;font-size:8.67px;line-height:8.800px;color:#fff"><b>网</b><br><span style="font-size:9.200px">36</span></div>
<div class="t" style="left:240.2px;top:63.7px;font-size:8.67px;line-height:8.800px;color:#fff"><b>大</b><br><span style="font-size:9.200px">3</span></div>
<div class="t" style="left:154.8px;top:128.0px;font-size:8.67px;line-height:8.800px;color:#fff"><b>综...</b><br><span style="font-size:9.200px">27个</span></div>
</div>
<div class="card" id="c3" style="left:967px;top:60px;width:296px;height:203.600px">
<div class="ttl" style="left:10.5px;top:16.1px">应用分组分布</div>
<div class="abs" style="left:256.4px;top:10.2px;width:29.2px;height:19.6px;border:.8px solid #dcdfe6;border-left:none;border-radius:0 2.5px 2.5px 0"></div><div class="abs" style="left:228.2px;top:10.2px;width:29px;height:19.6px;border:.8px solid #6496f9;border-radius:2.5px 0 0 2.5px"></div><svg class="abs" style="left:238.8px;top:15.8px" width="8" height="8.400" viewBox="0 0 8 8.400"><path d="M6.300 1.400L1.500 4.200l4.800 2.800" fill="none" stroke="#4a7cf5" stroke-width=".7"/><circle cx="6.400" cy="1.400" r="1.200" fill="#3f73f3"/><circle cx="1.500" cy="4.200" r="1.300" fill="#3f73f3"/><circle cx="6.400" cy="7" r="1.200" fill="#3f73f3"/></svg><svg class="abs" style="left:267.2px;top:17px" width="7.200" height="6" viewBox="0 0 7.200 6"><path d="M.6 .7h6M.6 3h6M.6 5.300h6" stroke="#777" stroke-width="1.300"/></svg>
<svg class="abs" style="left:0;top:40px" width="296" height="160" viewBox="967 100 296 160"><defs><linearGradient id="g1" x1="0" y1="0" x2="1" y2="0"><stop offset="0" stop-color="#b0efe7"/><stop offset="1" stop-color="#8ceacf"/></linearGradient><linearGradient id="g2" x1="0" y1="0" x2="1" y2="0"><stop offset="0" stop-color="#bbeefc"/><stop offset="1" stop-color="#b0cdfb"/></linearGradient><linearGradient id="g3" x1="0" y1="0" x2="1" y2="0"><stop offset="0" stop-color="#f7c3ea"/><stop offset="1" stop-color="#cba6fc"/></linearGradient><linearGradient id="g4" x1="0" y1="0" x2="1" y2="0"><stop offset="0" stop-color="#fee7a2"/><stop offset="1" stop-color="#ff9a85"/></linearGradient><linearGradient id="g5" x1="0" y1="0" x2="1" y2="0"><stop offset="0" stop-color="#d0d9ea"/><stop offset="1" stop-color="#98a4bc"/></linearGradient><linearGradient id="g6" x1="0" y1="0" x2="1" y2="0"><stop offset="0" stop-color="#fedbe9"/><stop offset="1" stop-color="#fe9fc3"/></linearGradient><linearGradient id="g7" x1="0" y1="0" x2="1" y2="0"><stop offset="0" stop-color="#c9d8fc"/><stop offset="1" stop-color="#adb0fb"/></linearGradient></defs><circle cx="1128.0" cy="181.8" r="12.7" fill="#f4f7fe"/><text x="1128.0" y="183.5" font-size="4.900" fill="#fafbff" opacity=".9" text-anchor="middle" font-family="Liberation Sans,sans-serif">ZHFX</text><circle cx="1079.2" cy="230.3" r="17.8" fill="#f4f7fe"/><text x="1079.2" y="232.0" font-size="4.900" fill="#fafbff" opacity=".9" text-anchor="middle" font-family="Liberation Sans,sans-serif">YXT</text><circle cx="1125.0" cy="223.0" r="25.7" fill="#f4f7fe"/><text x="1125.0" y="224.7" font-size="4.900" fill="#fafbff" opacity=".9" text-anchor="middle" font-family="Liberation Sans,sans-serif">DEFAULT</text><circle cx="1010.9" cy="162.5" r="25.6" fill="url(#g1)"/><text x="1010.9" y="164.2" font-size="4.900" fill="#fff" opacity=".9" text-anchor="middle" font-family="Liberation Sans,sans-serif">FZADMIN</text><circle cx="1059.2" cy="138.4" r="25.6" fill="url(#g2)"/><text x="1059.2" y="140.1" font-size="4.900" fill="#fff" opacity=".9" text-anchor="middle" font-family="Liberation Sans,sans-serif">WXGZH</text><circle cx="1119.6" cy="141.7" r="25.6" fill="url(#g3)"/><text x="1119.6" y="143.4" font-size="4.900" fill="#fff" opacity=".9" text-anchor="middle" font-family="Liberation Sans,sans-serif">GS</text><circle cx="1166.6" cy="168.3" r="25.6" fill="url(#g4)"/><text x="1166.6" y="170.0" font-size="4.900" fill="#fff" opacity=".9" text-anchor="middle" font-family="Liberation Sans,sans-serif">SS</text><circle cx="1219.7" cy="160.0" r="25.6" fill="url(#g5)"/><text x="1219.7" y="161.7" font-size="4.900" fill="#fff" opacity=".9" text-anchor="middle" font-family="Liberation Sans,sans-serif">SLMX</text><circle cx="1038.9" cy="208.5" r="25.6" fill="url(#g7)"/><text x="1038.9" y="210.2" font-size="4.900" fill="#fff" opacity=".9" text-anchor="middle" font-family="Liberation Sans,sans-serif">TST</text><circle cx="1086.9" cy="184.6" r="25.6" fill="url(#g6)"/><text x="1086.9" y="186.3" font-size="4.900" fill="#fff" opacity=".9" text-anchor="middle" font-family="Liberation Sans,sans-serif">SYSADMIN</text></svg>
</div>
<div class="card" id="c4" style="left:56px;top:272px;width:599px;height:335px">
<div class="ttl" style="left:9.8px;top:18.2px;letter-spacing:.12px">API调用信息(Top10)</div>
<div class="abs" style="left:368.7px;top:11.3px;width:220.2px;height:21.3px;border:.8px solid #dcdfe6;border-radius:2.5px"></div>
<div class="t" style="left:368.7px;top:17.800px;width:49.6px;text-align:center;font-size:10.67px;line-height:11px;color:#4a7cf5">今日</div>
<div class="abs" style="left:418.3px;top:11.3px;width:.8px;height:21.3px;background:#dcdfe6"></div>
<div class="t" style="left:418.3px;top:17.800px;width:54.5px;text-align:center;font-size:10.67px;line-height:11px;color:#606266">近7天</div>
<div class="abs" style="left:472.8px;top:11.3px;width:.8px;height:21.3px;background:#dcdfe6"></div>
<div class="t" style="left:472.8px;top:17.800px;width:60.7px;text-align:center;font-size:10.67px;line-height:11px;color:#606266">近30天</div>
<div class="abs" style="left:533.5px;top:11.3px;width:.8px;height:21.3px;background:#dcdfe6"></div>
<div class="t" style="left:533.5px;top:17.800px;width:55.4px;text-align:center;font-size:10.67px;line-height:11px;color:#606266">近1年</div>
<div class="abs" style="left:368.7px;top:11.3px;width:50.2px;height:21.3px;border:.9px solid #5b8ff9;border-radius:2.5px 0 0 2.5px"></div>
<div class="abs" style="left:9.8px;top:40.2px;width:579.1px;height:27.4px;background:#eff3fb"></div>
<div class="abs" style="left:285.0px;top:40.2px;width:105.3px;height:27.4px;background:#eaf0fa"></div>
<div class="abs" style="left:581.2px;top:67.3px;width:7.7px;height:.6px;background:#e6eaf2"></div>
<div class="t" style="left:21.0px;top:50.0px;font-size:8.67px;line-height:9px;color:#7c8db0">排名</div>
<div class="t" style="left:106.0px;top:50.0px;font-size:8.67px;line-height:9px;color:#7c8db0">服务ID</div>
<div class="t" style="left:190.6px;top:50.0px;font-size:8.67px;line-height:9px;color:#7c8db0">服务名</div>
<div class="t" style="left:296.9px;top:50.0px;font-size:8.67px;line-height:9px;color:#7c8db0">平均调用次数</div>
<svg class="abs" style="left:356.2px;top:48.3px" width="5.400" height="11.200" viewBox="0 0 5.400 11.200"><path d="M2.700 .9L5.300 4.200H.1z" fill="#959eb1"/><path d="M2.700 10.500L5.300 7.200H.1z" fill="#959eb1"/></svg>
<div class="t" style="left:402.5px;top:50.0px;font-size:8.67px;line-height:9px;color:#7c8db0">平均成功数</div>
<svg class="abs" style="left:453.2px;top:48.3px" width="5.400" height="11.200" viewBox="0 0 5.400 11.200"><path d="M2.700 .9L5.300 4.200H.1z" fill="#959eb1"/><path d="M2.700 10.500L5.300 7.200H.1z" fill="#959eb1"/></svg>
<div class="t" style="left:497.7px;top:50.0px;font-size:8.67px;line-height:9px;color:#7c8db0">平均失败数</div>
<svg class="abs" style="left:548.4px;top:48.3px" width="5.400" height="11.200" viewBox="0 0 5.400 11.200"><path d="M2.700 .9L5.300 4.200H.1z" fill="#959eb1"/><path d="M2.700 10.500L5.300 7.200H.1z" fill="#959eb1"/></svg>
<svg class="abs" style="left:19.7px;top:72.0px" width="18" height="19.200" viewBox="0 0 18 19.200"><defs><linearGradient id="ma1" x1="0" y1="0" x2="0" y2="1"><stop offset="0" stop-color="#fdc340"/><stop offset="1" stop-color="#f9aa12"/></linearGradient><linearGradient id="ma1i" x1="0" y1="0" x2="0" y2="1"><stop offset="0" stop-color="#fedb85"/><stop offset="1" stop-color="#fcc348"/></linearGradient></defs><path d="M8.800 1.300L16.100 5.300V13.600L8.800 17.700L1.500 13.600V5.300Z" fill="url(#ma1)" stroke="url(#ma1)" stroke-width="2.400" stroke-linejoin="round"/><path d="M8.800 3.900L13.700 6.600V12.400L8.800 15.100L3.900 12.400V6.600Z" fill="url(#ma1i)" stroke="url(#ma1i)" stroke-width="1.200" stroke-linejoin="round"/><text x="8.700" y="13.300" font-size="10.800" font-weight="bold" fill="#fff" text-anchor="middle" font-family="Liberation Sans,sans-serif" textLength="4.700" lengthAdjust="spacingAndGlyphs">1</text><path d="M14.200 .6l.7 1.800 1.800.7-1.800.7-.7 1.800-.7-1.800-1.800-.7 1.800-.7z" fill="#fff"/></svg>
<div class="t" style="left:106.0px;top:75.37px;font-size:9.33px;line-height:10px;color:#333;">371</div>
<div class="t" style="left:190.6px;top:75.37px;font-size:9.33px;line-height:10px;color:#333;">queryDkByID</div>
<div class="t" style="left:296.9px;top:75.37px;font-size:9.33px;line-height:10px;color:#333;">17438</div>
<div class="t" style="left:402.5px;top:75.37px;font-size:9.33px;line-height:10px;color:#333;">17438</div>
<div class="t" style="left:497.7px;top:75.37px;font-size:9.33px;line-height:10px;color:#333;">0</div>
<div class="abs" style="left:9.8px;top:92.33px;width:571.4px;height:24.73px;background:#f8f9fb"></div>
<svg class="abs" style="left:19.7px;top:96.7px" width="18" height="19.200" viewBox="0 0 18 19.200"><defs><linearGradient id="ma2" x1="0" y1="0" x2="0" y2="1"><stop offset="0" stop-color="#c9d5e2"/><stop offset="1" stop-color="#a9b9cc"/></linearGradient><linearGradient id="ma2i" x1="0" y1="0" x2="0" y2="1"><stop offset="0" stop-color="#e3eaf1"/><stop offset="1" stop-color="#bccad9"/></linearGradient></defs><path d="M8.800 1.300L16.100 5.300V13.600L8.800 17.700L1.500 13.600V5.300Z" fill="url(#ma2)" stroke="url(#ma2)" stroke-width="2.400" stroke-linejoin="round"/><path d="M8.800 3.900L13.700 6.600V12.400L8.800 15.100L3.900 12.400V6.600Z" fill="url(#ma2i)" stroke="url(#ma2i)" stroke-width="1.200" stroke-linejoin="round"/><text x="8.700" y="13.300" font-size="10.800" font-weight="bold" fill="#fff" text-anchor="middle" font-family="Liberation Sans,sans-serif" textLength="4.700" lengthAdjust="spacingAndGlyphs">2</text><path d="M14.200 .6l.7 1.800 1.800.7-1.800.7-.7 1.800-.7-1.800-1.800-.7 1.800-.7z" fill="#fff"/></svg>
<div class="t" style="left:106.0px;top:100.10px;font-size:9.33px;line-height:10px;color:#333;">208</div>
<div class="t" style="left:190.6px;top:100.10px;font-size:9.33px;line-height:10px;color:#333;letter-spacing:-.36px;">Service1__WX_CX...</div>
<div class="t" style="left:296.9px;top:100.10px;font-size:9.33px;line-height:10px;color:#333;">9121</div>
<div class="t" style="left:402.5px;top:100.10px;font-size:9.33px;line-height:10px;color:#333;">9121</div>
<div class="t" style="left:497.7px;top:100.10px;font-size:9.33px;line-height:10px;color:#333;">0</div>
<svg class="abs" style="left:19.7px;top:121.4px" width="18" height="19.200" viewBox="0 0 18 19.200"><defs><linearGradient id="ma3" x1="0" y1="0" x2="0" y2="1"><stop offset="0" stop-color="#f3b9ae"/><stop offset="1" stop-color="#e59587"/></linearGradient><linearGradient id="ma3i" x1="0" y1="0" x2="0" y2="1"><stop offset="0" stop-color="#f9d6cf"/><stop offset="1" stop-color="#eeaa9e"/></linearGradient></defs><path d="M8.800 1.300L16.100 5.300V13.600L8.800 17.700L1.500 13.600V5.300Z" fill="url(#ma3)" stroke="url(#ma3)" stroke-width="2.400" stroke-linejoin="round"/><path d="M8.800 3.900L13.700 6.600V12.400L8.800 15.100L3.900 12.400V6.600Z" fill="url(#ma3i)" stroke="url(#ma3i)" stroke-width="1.200" stroke-linejoin="round"/><text x="8.700" y="13.300" font-size="10.800" font-weight="bold" fill="#fff" text-anchor="middle" font-family="Liberation Sans,sans-serif" textLength="4.700" lengthAdjust="spacingAndGlyphs">3</text><path d="M14.200 .6l.7 1.800 1.800.7-1.800.7-.7 1.800-.7-1.800-1.800-.7 1.800-.7z" fill="#fff"/></svg>
<div class="t" style="left:106.0px;top:124.83px;font-size:9.33px;line-height:10px;color:#333;">190</div>
<div class="t" style="left:190.6px;top:124.83px;font-size:9.33px;line-height:10px;color:#333;letter-spacing:-.36px;">WeiXinService__C...</div>
<div class="t" style="left:296.9px;top:124.83px;font-size:9.33px;line-height:10px;color:#333;">8177</div>
<div class="t" style="left:402.5px;top:124.83px;font-size:9.33px;line-height:10px;color:#333;">8177</div>
<div class="t" style="left:497.7px;top:124.83px;font-size:9.33px;line-height:10px;color:#333;">0</div>
<div class="abs" style="left:9.8px;top:141.79px;width:571.4px;height:24.73px;background:#f8f9fb"></div>
<div class="t" style="left:25.8px;top:149.56px;font-size:9.33px;line-height:10px;color:#333">4</div>
<div class="t" style="left:106.0px;top:149.56px;font-size:9.33px;line-height:10px;color:#333;">196</div>
<div class="t" style="left:190.6px;top:149.56px;font-size:9.33px;line-height:10px;color:#333;letter-spacing:-.36px;">WeiXinService__C...</div>
<div class="t" style="left:296.9px;top:149.56px;font-size:9.33px;line-height:10px;color:#333;">4404</div>
<div class="t" style="left:402.5px;top:149.56px;font-size:9.33px;line-height:10px;color:#333;">4404</div>
<div class="t" style="left:497.7px;top:149.56px;font-size:9.33px;line-height:10px;color:#333;">0</div>
<div class="t" style="left:25.8px;top:174.29px;font-size:9.33px;line-height:10px;color:#333">5</div>
<div class="t" style="left:106.0px;top:174.29px;font-size:9.33px;line-height:10px;color:#333;">193</div>
<div class="t" style="left:190.6px;top:174.29px;font-size:9.33px;line-height:10px;color:#333;letter-spacing:-.36px;">WeiXinService__C...</div>
<div class="t" style="left:296.9px;top:174.29px;font-size:9.33px;line-height:10px;color:#333;">2886</div>
<div class="t" style="left:402.5px;top:174.29px;font-size:9.33px;line-height:10px;color:#333;">2886</div>
<div class="t" style="left:497.7px;top:174.29px;font-size:9.33px;line-height:10px;color:#333;">0</div>
<div class="abs" style="left:9.8px;top:191.25px;width:571.4px;height:24.73px;background:#f8f9fb"></div>
<div class="t" style="left:25.8px;top:199.02px;font-size:9.33px;line-height:10px;color:#333">6</div>
<div class="t" style="left:106.0px;top:199.02px;font-size:9.33px;line-height:10px;color:#333;">353</div>
<div class="t" style="left:190.6px;top:199.02px;font-size:9.33px;line-height:10px;color:#333;">queryRealPay</div>
<div class="t" style="left:296.9px;top:199.02px;font-size:9.33px;line-height:10px;color:#333;">743</div>
<div class="t" style="left:402.5px;top:199.02px;font-size:9.33px;line-height:10px;color:#333;">743</div>
<div class="t" style="left:497.7px;top:199.02px;font-size:9.33px;line-height:10px;color:#333;">0</div>
<div class="t" style="left:25.8px;top:223.75px;font-size:9.33px;line-height:10px;color:#333">7</div>
<div class="t" style="left:106.0px;top:223.75px;font-size:9.33px;line-height:10px;color:#333;">192</div>
<div class="t" style="left:190.6px;top:223.75px;font-size:9.33px;line-height:10px;color:#333;letter-spacing:-.36px;">WeiXinService__C...</div>
<div class="t" style="left:296.9px;top:223.75px;font-size:9.33px;line-height:10px;color:#333;">487</div>
<div class="t" style="left:402.5px;top:223.75px;font-size:9.33px;line-height:10px;color:#333;">487</div>
<div class="t" style="left:497.7px;top:223.75px;font-size:9.33px;line-height:10px;color:#333;">0</div>
<div class="abs" style="left:9.8px;top:240.71px;width:571.4px;height:24.73px;background:#f8f9fb"></div>
<div class="t" style="left:25.8px;top:248.47px;font-size:9.33px;line-height:10px;color:#333">8</div>
<div class="t" style="left:106.0px;top:248.47px;font-size:9.33px;line-height:10px;color:#333;">627</div>
<div class="t" style="left:190.6px;top:248.47px;font-size:9.33px;line-height:10px;color:#333;letter-spacing:-.25px;">热线平台综合分析...</div>
<div class="t" style="left:296.9px;top:248.47px;font-size:9.33px;line-height:10px;color:#333;">363</div>
<div class="t" style="left:402.5px;top:248.47px;font-size:9.33px;line-height:10px;color:#333;">232</div>
<div class="t" style="left:497.7px;top:248.47px;font-size:9.33px;line-height:10px;color:#333;">131</div>
<div class="t" style="left:25.8px;top:273.20px;font-size:9.33px;line-height:10px;color:#333">9</div>
<div class="t" style="left:106.0px;top:273.20px;font-size:9.33px;line-height:10px;color:#333;">207</div>
<div class="t" style="left:190.6px;top:273.20px;font-size:9.33px;line-height:10px;color:#333;letter-spacing:-.5px;">Service1__WEB_C...</div>
<div class="t" style="left:296.9px;top:273.20px;font-size:9.33px;line-height:10px;color:#333;">336</div>
<div class="t" style="left:402.5px;top:273.20px;font-size:9.33px;line-height:10px;color:#333;">336</div>
<div class="t" style="left:497.7px;top:273.20px;font-size:9.33px;line-height:10px;color:#333;">0</div>
<div class="abs" style="left:9.8px;top:290.17px;width:571.4px;height:24.73px;background:#f8f9fb"></div>
<div class="t" style="left:25.8px;top:297.94px;font-size:9.33px;line-height:10px;color:#333">10</div>
<div class="t" style="left:106.0px;top:297.94px;font-size:9.33px;line-height:10px;color:#333;">377</div>
<div class="t" style="left:190.6px;top:297.94px;font-size:9.33px;line-height:10px;color:#333;">queryUserInfoByI...</div>
<div class="t" style="left:296.9px;top:297.94px;font-size:9.33px;line-height:10px;color:#333;">322</div>
<div class="t" style="left:402.5px;top:297.94px;font-size:9.33px;line-height:10px;color:#333;">322</div>
<div class="t" style="left:497.7px;top:297.94px;font-size:9.33px;line-height:10px;color:#333;">0</div>
</div>
<div class="card" id="c5" style="left:664px;top:272px;width:599px;height:335px">
<div class="ttl" style="left:9.5px;top:18.2px;letter-spacing:.12px">用户调用信息(Top10)</div>
<div class="abs" style="left:369.0px;top:11.3px;width:220.2px;height:21.3px;border:.8px solid #dcdfe6;border-radius:2.5px"></div>
<div class="t" style="left:369.0px;top:17.800px;width:49.6px;text-align:center;font-size:10.67px;line-height:11px;color:#4a7cf5">今日</div>
<div class="abs" style="left:418.6px;top:11.3px;width:.8px;height:21.3px;background:#dcdfe6"></div>
<div class="t" style="left:418.6px;top:17.800px;width:54.5px;text-align:center;font-size:10.67px;line-height:11px;color:#606266">近7天</div>
<div class="abs" style="left:473.1px;top:11.3px;width:.8px;height:21.3px;background:#dcdfe6"></div>
<div class="t" style="left:473.1px;top:17.800px;width:60.7px;text-align:center;font-size:10.67px;line-height:11px;color:#606266">近30天</div>
<div class="abs" style="left:533.8px;top:11.3px;width:.8px;height:21.3px;background:#dcdfe6"></div>
<div class="t" style="left:533.8px;top:17.800px;width:55.4px;text-align:center;font-size:10.67px;line-height:11px;color:#606266">近1年</div>
<div class="abs" style="left:369.0px;top:11.3px;width:50.2px;height:21.3px;border:.9px solid #5b8ff9;border-radius:2.5px 0 0 2.5px"></div>
<div class="abs" style="left:9.5px;top:40.2px;width:579.3px;height:27.4px;background:#eff3fb"></div>
<div class="abs" style="left:581.7px;top:67.3px;width:7.1px;height:.6px;background:#e6eaf2"></div>
<div class="t" style="left:21.5px;top:50.0px;font-size:8.67px;line-height:9px;color:#7c8db0">排名</div>
<div class="t" style="left:117.2px;top:50.0px;font-size:8.67px;line-height:9px;color:#7c8db0">IP地址</div>
<div class="t" style="left:236.0px;top:50.0px;font-size:8.67px;line-height:9px;color:#7c8db0">平均调用数</div>
<svg class="abs" style="left:286.7px;top:48.3px" width="5.400" height="11.200" viewBox="0 0 5.400 11.200"><path d="M2.700 .9L5.300 4.200H.1z" fill="#959eb1"/><path d="M2.700 10.500L5.300 7.200H.1z" fill="#959eb1"/></svg>
<div class="t" style="left:355.1px;top:50.0px;font-size:8.67px;line-height:9px;color:#7c8db0">平均成功数</div>
<svg class="abs" style="left:405.8px;top:48.3px" width="5.400" height="11.200" viewBox="0 0 5.400 11.200"><path d="M2.700 .9L5.300 4.200H.1z" fill="#959eb1"/><path d="M2.700 10.500L5.300 7.200H.1z" fill="#959eb1"/></svg>
<div class="t" style="left:474.5px;top:50.0px;font-size:8.67px;line-height:9px;color:#7c8db0">平均失败数</div>
<svg class="abs" style="left:525.1px;top:48.3px" width="5.400" height="11.200" viewBox="0 0 5.400 11.200"><path d="M2.700 .9L5.300 4.200H.1z" fill="#959eb1"/><path d="M2.700 10.500L5.300 7.200H.1z" fill="#959eb1"/></svg>
<svg class="abs" style="left:20.2px;top:72.0px" width="18" height="19.200" viewBox="0 0 18 19.200"><defs><linearGradient id="mb1" x1="0" y1="0" x2="0" y2="1"><stop offset="0" stop-color="#fdc340"/><stop offset="1" stop-color="#f9aa12"/></linearGradient><linearGradient id="mb1i" x1="0" y1="0" x2="0" y2="1"><stop offset="0" stop-color="#fedb85"/><stop offset="1" stop-color="#fcc348"/></linearGradient></defs><path d="M8.800 1.300L16.100 5.300V13.600L8.800 17.700L1.500 13.600V5.300Z" fill="url(#mb1)" stroke="url(#mb1)" stroke-width="2.400" stroke-linejoin="round"/><path d="M8.800 3.900L13.700 6.600V12.400L8.800 15.100L3.900 12.400V6.600Z" fill="url(#mb1i)" stroke="url(#mb1i)" stroke-width="1.200" stroke-linejoin="round"/><text x="8.700" y="13.300" font-size="10.800" font-weight="bold" fill="#fff" text-anchor="middle" font-family="Liberation Sans,sans-serif" textLength="4.700" lengthAdjust="spacingAndGlyphs">1</text><path d="M14.200 .6l.7 1.800 1.800.7-1.800.7-.7 1.800-.7-1.800-1.800-.7 1.800-.7z" fill="#fff"/></svg>
<div class="t" style="left:117.2px;top:75.37px;font-size:9.33px;line-height:10px;color:#333;letter-spacing:-.25px;">168.1.9.135,172.17.0.1</div>
<div class="t" style="left:236.0px;top:75.37px;font-size:9.33px;line-height:10px;color:#333;">43967</div>
<div class="t" style="left:355.1px;top:75.37px;font-size:9.33px;line-height:10px;color:#333;">43967</div>
<div class="t" style="left:474.5px;top:75.37px;font-size:9.33px;line-height:10px;color:#333;">0</div>
<div class="abs" style="left:9.5px;top:92.33px;width:572.2px;height:24.73px;background:#f8f9fb"></div>
<svg class="abs" style="left:20.2px;top:96.7px" width="18" height="19.200" viewBox="0 0 18 19.200"><defs><linearGradient id="mb2" x1="0" y1="0" x2="0" y2="1"><stop offset="0" stop-color="#c9d5e2"/><stop offset="1" stop-color="#a9b9cc"/></linearGradient><linearGradient id="mb2i" x1="0" y1="0" x2="0" y2="1"><stop offset="0" stop-color="#e3eaf1"/><stop offset="1" stop-color="#bccad9"/></linearGradient></defs><path d="M8.800 1.300L16.100 5.300V13.600L8.800 17.700L1.500 13.600V5.300Z" fill="url(#mb2)" stroke="url(#mb2)" stroke-width="2.400" stroke-linejoin="round"/><path d="M8.800 3.900L13.700 6.600V12.400L8.800 15.100L3.900 12.400V6.600Z" fill="url(#mb2i)" stroke="url(#mb2i)" stroke-width="1.200" stroke-linejoin="round"/><text x="8.700" y="13.300" font-size="10.800" font-weight="bold" fill="#fff" text-anchor="middle" font-family="Liberation Sans,sans-serif" textLength="4.700" lengthAdjust="spacingAndGlyphs">2</text><path d="M14.200 .6l.7 1.800 1.800.7-1.800.7-.7 1.800-.7-1.800-1.800-.7 1.800-.7z" fill="#fff"/></svg>
<div class="t" style="left:117.2px;top:100.10px;font-size:9.33px;line-height:10px;color:#333;letter-spacing:-.25px;">168.0.9.31,172.17.0.1</div>
<div class="t" style="left:236.0px;top:100.10px;font-size:9.33px;line-height:10px;color:#333;">1118</div>
<div class="t" style="left:355.1px;top:100.10px;font-size:9.33px;line-height:10px;color:#333;">1118</div>
<div class="t" style="left:474.5px;top:100.10px;font-size:9.33px;line-height:10px;color:#333;">0</div>
<svg class="abs" style="left:20.2px;top:121.4px" width="18" height="19.200" viewBox="0 0 18 19.200"><defs><linearGradient id="mb3" x1="0" y1="0" x2="0" y2="1"><stop offset="0" stop-color="#f3b9ae"/><stop offset="1" stop-color="#e59587"/></linearGradient><linearGradient id="mb3i" x1="0" y1="0" x2="0" y2="1"><stop offset="0" stop-color="#f9d6cf"/><stop offset="1" stop-color="#eeaa9e"/></linearGradient></defs><path d="M8.800 1.300L16.100 5.300V13.600L8.800 17.700L1.500 13.600V5.300Z" fill="url(#mb3)" stroke="url(#mb3)" stroke-width="2.400" stroke-linejoin="round"/><path d="M8.800 3.900L13.700 6.600V12.400L8.800 15.100L3.900 12.400V6.600Z" fill="url(#mb3i)" stroke="url(#mb3i)" stroke-width="1.200" stroke-linejoin="round"/><text x="8.700" y="13.300" font-size="10.800" font-weight="bold" fill="#fff" text-anchor="middle" font-family="Liberation Sans,sans-serif" textLength="4.700" lengthAdjust="spacingAndGlyphs">3</text><path d="M14.200 .6l.7 1.800 1.800.7-1.800.7-.7 1.800-.7-1.800-1.800-.7 1.800-.7z" fill="#fff"/></svg>
<div class="t" style="left:117.2px;top:124.83px;font-size:9.33px;line-height:10px;color:#333;letter-spacing:-.25px;">168.0.9.50,172.17.0.1</div>
<div class="t" style="left:236.0px;top:124.83px;font-size:9.33px;line-height:10px;color:#333;">571</div>
<div class="t" style="left:355.1px;top:124.83px;font-size:9.33px;line-height:10px;color:#333;">571</div>
<div class="t" style="left:474.5px;top:124.83px;font-size:9.33px;line-height:10px;color:#333;">0</div>
<div class="abs" style="left:9.5px;top:141.79px;width:572.2px;height:37.50px;background:#f8f9fb"></div>
<div class="t" style="left:26.3px;top:155.94px;font-size:9.33px;line-height:10px;color:#333">4</div>
<div class="t" style="left:117.2px;top:150.44px;font-size:9.33px;line-height:11.300px;color:#333;letter-spacing:-.25px;">168.1.21.213,172.17.0.<br>1</div>
<div class="t" style="left:236.0px;top:155.94px;font-size:9.33px;line-height:10px;color:#333;">395</div>
<div class="t" style="left:355.1px;top:155.94px;font-size:9.33px;line-height:10px;color:#333;">395</div>
<div class="t" style="left:474.5px;top:155.94px;font-size:9.33px;line-height:10px;color:#333;">0</div>
<div class="t" style="left:26.3px;top:187.06px;font-size:9.33px;line-height:10px;color:#333">5</div>
<div class="t" style="left:117.2px;top:187.06px;font-size:9.33px;line-height:10px;color:#333;letter-spacing:-.25px;">168.1.9.71,172.17.0.1</div>
<div class="t" style="left:236.0px;top:187.06px;font-size:9.33px;line-height:10px;color:#333;">296</div>
<div class="t" style="left:355.1px;top:187.06px;font-size:9.33px;line-height:10px;color:#333;">296</div>
<div class="t" style="left:474.5px;top:187.06px;font-size:9.33px;line-height:10px;color:#333;">0</div>
<div class="abs" style="left:9.5px;top:204.02px;width:572.2px;height:24.73px;background:#f8f9fb"></div>
<div class="t" style="left:26.3px;top:211.79px;font-size:9.33px;line-height:10px;color:#333">6</div>
<div class="t" style="left:117.2px;top:211.79px;font-size:9.33px;line-height:10px;color:#333;letter-spacing:-.25px;">168.0.9.71,172.17.0.1</div>
<div class="t" style="left:236.0px;top:211.79px;font-size:9.33px;line-height:10px;color:#333;">213</div>
<div class="t" style="left:355.1px;top:211.79px;font-size:9.33px;line-height:10px;color:#333;">162</div>
<div class="t" style="left:474.5px;top:211.79px;font-size:9.33px;line-height:10px;color:#333;">51</div>
<div class="t" style="left:26.3px;top:236.52px;font-size:9.33px;line-height:10px;color:#333">7</div>
<div class="t" style="left:117.2px;top:236.52px;font-size:9.33px;line-height:10px;color:#333;letter-spacing:-.25px;">168.0.9.81,172.17.0.1</div>
<div class="t" style="left:236.0px;top:236.52px;font-size:9.33px;line-height:10px;color:#333;">200</div>
<div class="t" style="left:355.1px;top:236.52px;font-size:9.33px;line-height:10px;color:#333;">155</div>
<div class="t" style="left:474.5px;top:236.52px;font-size:9.33px;line-height:10px;color:#333;">45</div>
<div class="abs" style="left:9.5px;top:253.48px;width:572.2px;height:24.73px;background:#f8f9fb"></div>
<div class="t" style="left:26.3px;top:261.24px;font-size:9.33px;line-height:10px;color:#333">8</div>
<div class="t" style="left:117.2px;top:261.24px;font-size:9.33px;line-height:10px;color:#333;letter-spacing:-.25px;">168.0.9.80,172.17.0.1</div>
<div class="t" style="left:236.0px;top:261.24px;font-size:9.33px;line-height:10px;color:#333;">182</div>
<div class="t" style="left:355.1px;top:261.24px;font-size:9.33px;line-height:10px;color:#333;">147</div>
<div class="t" style="left:474.5px;top:261.24px;font-size:9.33px;line-height:10px;color:#333;">35</div>
<div class="t" style="left:26.3px;top:285.97px;font-size:9.33px;line-height:10px;color:#333">9</div>
<div class="t" style="left:117.2px;top:285.97px;font-size:9.33px;line-height:10px;color:#333;letter-spacing:-.25px;">168.1.9.156,172.17.0.1</div>
<div class="t" style="left:236.0px;top:285.97px;font-size:9.33px;line-height:10px;color:#333;">141</div>
<div class="t" style="left:355.1px;top:285.97px;font-size:9.33px;line-height:10px;color:#333;">141</div>
<div class="t" style="left:474.5px;top:285.97px;font-size:9.33px;line-height:10px;color:#333;">0</div>
<div class="abs" style="left:9.5px;top:302.94px;width:572.2px;height:24.73px;background:#f8f9fb"></div>
<div class="t" style="left:26.3px;top:310.70px;font-size:9.33px;line-height:10px;color:#333">10</div>
<div class="t" style="left:117.2px;top:310.70px;font-size:9.33px;line-height:10px;color:#333;letter-spacing:-.25px;">168.0.9.32</div>
<div class="t" style="left:236.0px;top:310.70px;font-size:9.33px;line-height:10px;color:#333;">44</div>
<div class="t" style="left:355.1px;top:310.70px;font-size:9.33px;line-height:10px;color:#333;">44</div>
<div class="t" style="left:474.5px;top:310.70px;font-size:9.33px;line-height:10px;color:#333;">0</div>
</div>
</body>
</html>
